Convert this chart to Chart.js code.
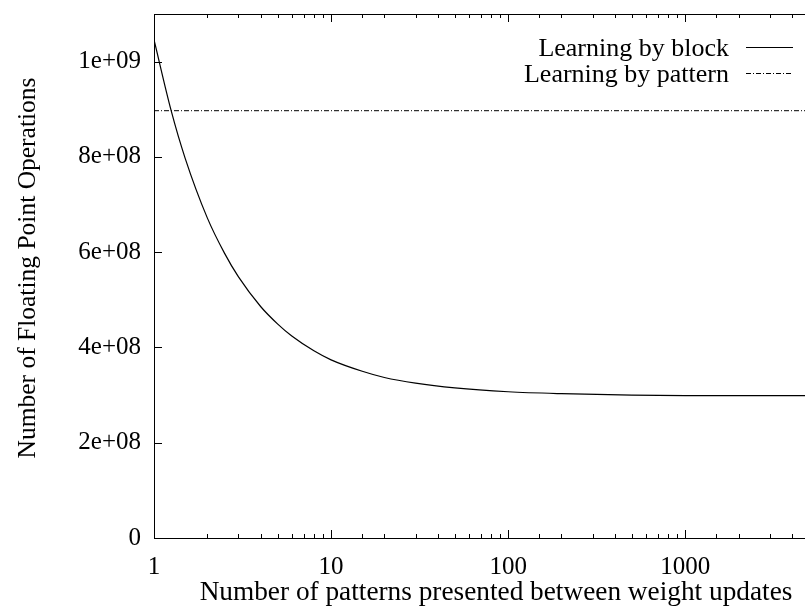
<!DOCTYPE html>
<html lang="en">

<head>
  <meta charset="UTF-8">
  <title>Floating point operations per weight update</title>
  <script src="https://cdn.jsdelivr.net/npm/chart.js"></script>
  <style>
    html,
    body {
      margin: 0;
      padding: 0;
      background: #ffffff;
      overflow: hidden;
    }

    #flopsChart {
      display: block;
    }
  </style>
</head>

<body>
  <canvas id="flopsChart" width="812" height="606"></canvas>
  <script>
    // patterns per weight update (x) and flop counts
    const patternsX = [1, 1.25, 1.5, 2, 2.5, 3, 4, 5, 6, 8, 10, 15, 20, 30, 50, 100, 200, 500, 1000, 2000, 5000];
    const blockFlops = [1.046e9, 8.97e8, 7.97e8, 6.72e8, 5.98e8, 5.48e8, 4.86e8, 4.49e8, 4.24e8, 3.93e8, 3.74e8,
      3.5e8, 3.37e8, 3.25e8, 3.15e8, 3.07e8, 3.03e8, 3.0e8, 2.99e8, 2.99e8, 2.99e8];
    const patternX = [1, 5000];
    const patternFlops = [8.97e8, 8.97e8];
    const xTickLabels = [1, 10, 100, 1000];
    const yTickLabels = [0, 2e8, 4e8, 6e8, 8e8, 1e9];

    const FONT = "'Liberation Serif', 'DejaVu Serif', serif";

    function fmtExp(v) {
      if (v === 0) return "0";
      const e = Math.floor(Math.log10(v) + 1e-9);
      const m = Math.round(v / Math.pow(10, e));
      return m + "e+" + String(e).padStart(2, "0");
    }

    function noPad(s) {
      s.paddingTop = 0;
      s.paddingBottom = 0;
      s.paddingLeft = 0;
      s.paddingRight = 0;
    }

    // gnuplot-ish frame: inward ticks, border, axis titles and key
    const gnuFrame = {
      id: "gnuFrame",
      afterDraw(chart) {
        const ctx = chart.ctx;
        const area = chart.chartArea;
        const xs = chart.scales.x;
        const ys = chart.scales.y;
        ctx.save();
        ctx.strokeStyle = "#000";
        ctx.lineWidth = 1;
        ctx.strokeRect(Math.round(area.left) + 0.5, Math.round(area.top) + 0.5,
          Math.round(area.right - area.left), Math.round(area.bottom - area.top));

        ctx.beginPath();
        xs.ticks.forEach(t => {
          const px = Math.round(xs.getPixelForValue(t.value)) + 0.5;
          const major = xTickLabels.includes(t.value);
          const len = major ? 8 : 4;
          ctx.moveTo(px, area.bottom);
          ctx.lineTo(px, area.bottom - len);
          ctx.moveTo(px, area.top);
          ctx.lineTo(px, area.top + len);
        });
        ys.ticks.forEach(t => {
          const py = Math.round(ys.getPixelForValue(t.value)) + 0.5;
          ctx.moveTo(area.left, py);
          ctx.lineTo(area.left + 8, py);
        });
        ctx.stroke();

        ctx.fillStyle = "#000";
        ctx.textAlign = "center";
        ctx.textBaseline = "alphabetic";
        ctx.font = "27.3px " + FONT;
        ctx.fillText("Number of patterns presented between weight updates", 496, 600);

        ctx.save();
        ctx.font = "25.5px " + FONT;
        ctx.translate(35, 268);
        ctx.rotate(-Math.PI / 2);
        ctx.fillText("Number of Floating Point Operations", 0, 0);
        ctx.restore();

        // key, text right-aligned with the line sample after it
        ctx.font = "26px " + FONT;
        chart.data.datasets.forEach((ds, i) => {
          const base = 56 + i * 26;
          ctx.textAlign = "right";
          ctx.fillText(ds.label, 729, base);
          ctx.beginPath();
          ctx.setLineDash(ds.borderDash || []);
          ctx.lineWidth = ds.borderWidth;
          ctx.moveTo(746, base - 8.5);
          ctx.lineTo(793, base - 8.5);
          ctx.stroke();
        });
        ctx.restore();
      }
    };

    const chart = new Chart(document.getElementById("flopsChart"), {
      type: "line",
      data: {
        datasets: [{
          label: "Learning by block",
          data: patternsX.map((x, i) => ({ x: x, y: blockFlops[i] })),
          borderColor: "#000",
          borderWidth: 1.2,
          pointRadius: 0,
          cubicInterpolationMode: "monotone",
          fill: false
        }, {
          label: "Learning by pattern",
          data: patternX.map((x, i) => ({ x: x, y: patternFlops[i] })),
          borderColor: "#000",
          borderWidth: 1,
          borderDash: [5, 2, 1, 2],
          pointRadius: 0,
          fill: false
        }]
      },
      options: {
        responsive: false,
        animation: false,
        layout: { padding: { top: 14, right: 3, left: 0, bottom: 0 } },
        plugins: {
          legend: { display: false },
          tooltip: { enabled: false }
        },
        scales: {
          x: {
            type: "logarithmic",
            min: 1,
            max: 5000,
            border: { display: false },
            grid: { display: false, drawTicks: false },
            ticks: {
              autoSkip: false,
              maxRotation: 0,
              padding: 14,
              color: "#000",
              font: { family: FONT, size: 25 },
              callback: v => xTickLabels.includes(v) ? String(v) : ""
            },
            afterFit: s => { s.height = 68; noPad(s); }
          },
          y: {
            min: 0,
            max: 1.1e9,
            border: { display: false },
            grid: { display: false, drawTicks: false },
            afterBuildTicks: s => { s.ticks = yTickLabels.map(v => ({ value: v })); },
            ticks: {
              autoSkip: false,
              padding: 13,
              color: "#000",
              font: { family: FONT, size: 25 },
              callback: v => fmtExp(v)
            },
            afterFit: s => { s.width = 154; noPad(s); }
          }
        }
      },
      plugins: [gnuFrame]
    });
  </script>
</body>

</html>
